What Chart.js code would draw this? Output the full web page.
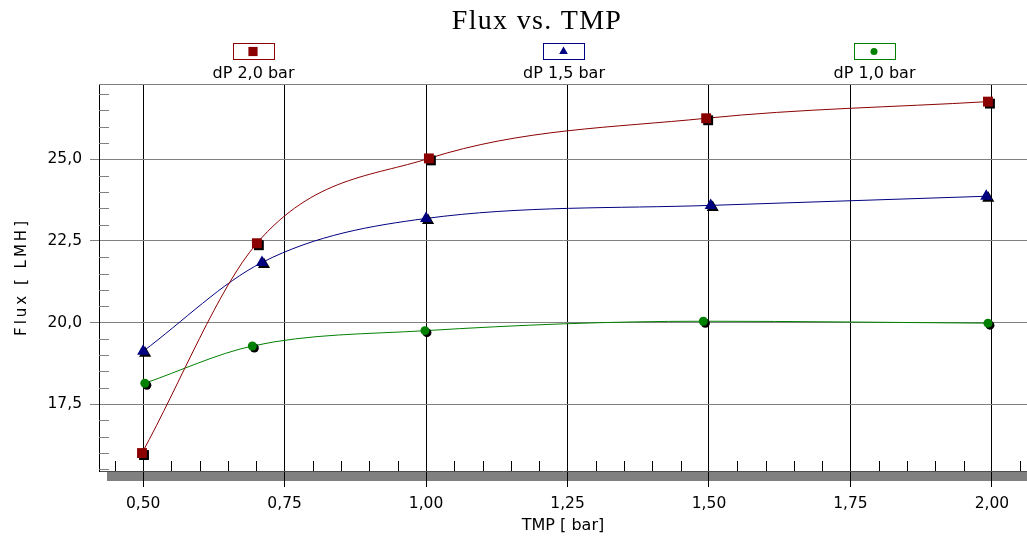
<!DOCTYPE html>
<html>
<head>
<meta charset="utf-8">
<title>Flux vs. TMP</title>
<script src="https://cdn.jsdelivr.net/npm/chart.js@4/dist/chart.umd.min.js"></script>
<style>
  html, body { margin: 0; padding: 0; background: #fff; }
  #wrap { width: 1027px; height: 536px; }
</style>
</head>
<body>
<div id="wrap"><canvas id="fluxChart" width="1027" height="536"></canvas></div>
<script>
// --- data ---
const chartTitle = "Flux vs. TMP";
const xTitle = "TMP [ bar]";
const yTitle = "Flux [ LMH]";
const seriesLabels = ["dP 2,0 bar", "dP 1,5 bar", "dP 1,0 bar"];

const tmp20 = [0.498, 0.701, 1.005, 1.495, 1.993];
const flux20 = [16.0, 22.43, 25.03, 26.26, 26.77];

const tmp15 = [0.5, 0.71, 1.0, 1.503, 1.99];
const flux15 = [19.12, 21.84, 23.19, 23.59, 23.87];

const tmp10 = [0.503, 0.693, 0.998, 1.49, 1.993];
const flux10 = [18.14, 19.28, 19.75, 20.04, 19.98];

// axis ranges / tick steps
const xMin = 0.422, xMax = 2.062, xStep = 0.05, xMajor = 0.25;
const yMin = 15.45, yMax = 27.31, yStep = 0.5, yMajor = 2.5;

const colors = ["#8b0000", "#000080", "#008000"];
const markers = ["rect", "triangle", "circle"];
const markerRadius = [7, 7, 4.5];
const legendRadius = [6.5, 5, 3.5];

const FONT = "'DejaVu Sans', sans-serif";

function isMajor(v, step) {
  return Math.abs(v / step - Math.round(v / step)) < 1e-6;
}

function commaFmt(v, digits) {
  return v.toFixed(digits).replace(".", ",");
}

// build datasets: one smoothed line + one marker set per series
const seriesX = [tmp20, tmp15, tmp10];
const seriesY = [flux20, flux15, flux10];
const datasets = [];
seriesLabels.forEach((label, i) => {
  const pts = seriesX[i].map((x, k) => ({ x: x, y: seriesY[i][k] }));
  datasets.push({
    label: label,
    data: pts,
    borderColor: colors[i],
    borderWidth: 1,
    pointRadius: 0,
    pointHoverRadius: 0,
    cubicInterpolationMode: "monotone",
    fill: false,
    order: 2,
  });
  datasets.push({
    label: label,
    data: pts,
    showLine: false,
    pointStyle: markers[i],
    pointRadius: markerRadius[i],
    pointHoverRadius: markerRadius[i],
    pointBackgroundColor: colors[i],
    pointBorderColor: colors[i],
    pointBorderWidth: 0,
    pointShadow: true,
    order: 1,
  });
});

// black drop shadow under the markers
const markerShadow = {
  id: "markerShadow",
  beforeDatasetDraw(chart, args) {
    if (!chart.data.datasets[args.index].pointShadow) return;
    const ctx = chart.ctx;
    ctx.save();
    ctx.shadowColor = "#000";
    ctx.shadowOffsetX = 2;
    ctx.shadowOffsetY = 2;
    ctx.shadowBlur = 0;
  },
  afterDatasetDraw(chart, args) {
    if (chart.data.datasets[args.index].pointShadow) chart.ctx.restore();
  },
};

// title, legend boxes, rotated y title, grey base bar, inner minor ticks
const decor = {
  id: "decor",
  beforeDraw(chart) {
    const { ctx, chartArea: a } = chart;
    ctx.save();
    ctx.fillStyle = "#808080";
    ctx.fillRect(a.left + 8, a.bottom + 1, a.right - a.left - 8, 9);
    ctx.restore();
  },
  beforeDatasetsDraw(chart) {
    const { ctx, chartArea: a, scales } = chart;
    ctx.save();
    ctx.lineWidth = 1;
    // top frame line
    ctx.strokeStyle = "#808080";
    ctx.beginPath();
    ctx.moveTo(a.left, a.top + 0.5);
    ctx.lineTo(a.right, a.top + 0.5);
    ctx.stroke();
    // minor ticks pointing inwards
    ctx.strokeStyle = "#000";
    ctx.beginPath();
    scales.x.ticks.forEach((t) => {
      if (isMajor(t.value, xMajor)) return;
      const px = Math.round(scales.x.getPixelForValue(t.value)) + 0.5;
      ctx.moveTo(px, a.bottom);
      ctx.lineTo(px, a.bottom - 10);
    });
    ctx.stroke();
    ctx.strokeStyle = "#808080";
    ctx.beginPath();
    scales.y.ticks.forEach((t) => {
      if (isMajor(t.value, yMajor)) return;
      const py = Math.round(scales.y.getPixelForValue(t.value)) + 0.5;
      ctx.moveTo(a.left, py);
      ctx.lineTo(a.left + 10, py);
    });
    ctx.stroke();
    ctx.restore();
  },
  afterDraw(chart) {
    const { ctx, chartArea: a } = chart;
    const mid = (a.left + a.right) / 2;
    ctx.save();
    // chart title
    ctx.fillStyle = "#000";
    ctx.font = "28px 'Liberation Serif', 'Times New Roman', serif";
    ctx.letterSpacing = "1.3px";
    ctx.textAlign = "center";
    ctx.textBaseline = "alphabetic";
    ctx.fillText(chartTitle, mid - 26, 29);
    ctx.letterSpacing = "0px";

    // legend: framed marker with the label underneath
    seriesLabels.forEach((label, i) => {
      const cx = mid + (i - 1) * 310.5;
      ctx.strokeStyle = colors[i];
      ctx.lineWidth = 1;
      ctx.strokeRect(Math.round(cx - 20) + 0.5, 43.5, 41, 16);
      ctx.fillStyle = colors[i];
      Chart.helpers.drawPoint(ctx, {
        pointStyle: markers[i],
        radius: legendRadius[i],
        rotation: 0,
        borderWidth: 0,
      }, cx + 0.5, 51.5);
      ctx.fillStyle = "#000";
      ctx.font = "16px " + FONT;
      ctx.textAlign = "center";
      ctx.fillText(label, cx + 1, 78);
    });

    // y axis title with wide tracking
    ctx.translate(22, 277);
    ctx.rotate(-Math.PI / 2);
    ctx.font = "15px " + FONT;
    ctx.letterSpacing = "3px";
    ctx.textAlign = "center";
    ctx.textBaseline = "middle";
    ctx.fillStyle = "#000";
    ctx.fillText(yTitle, 0, 0);
    ctx.restore();
  },
};

const chart = new Chart(document.getElementById("fluxChart"), {
  type: "line",
  data: { datasets: datasets },
  plugins: [markerShadow, decor],
  options: {
    responsive: false,
    animation: false,
    devicePixelRatio: 1,
    layout: { autoPadding: false, padding: { top: 84, right: 0, bottom: 0, left: 0 } },
    plugins: {
      legend: { display: false },
      title: { display: false },
      tooltip: { enabled: false },
    },
    scales: {
      x: {
        type: "linear",
        min: xMin,
        max: xMax,
        afterFit(scale) {
          scale.height = 65;
          scale.paddingLeft = 0;
          scale.paddingRight = 0;
        },
        border: { display: true, color: "#4d4d4d", width: 1 },
        grid: {
          color: (c) => (c.tick && isMajor(c.tick.value, xMajor) ? "#000" : "rgba(0,0,0,0)"),
          lineWidth: 1,
          tickLength: 16,
        },
        ticks: {
          stepSize: xStep,
          includeBounds: false,
          autoSkip: false,
          maxRotation: 0,
          maxTicksLimit: 200,
          padding: 8,
          color: "#000",
          font: { family: FONT, size: 15.5 },
          callback: (v) => (isMajor(v, xMajor) ? commaFmt(v, 2) : ""),
        },
        title: {
          display: true,
          text: xTitle,
          color: "#000",
          font: { family: FONT, size: 16 },
          padding: { top: 0, bottom: 1 },
        },
      },
      y: {
        type: "linear",
        min: yMin,
        max: yMax,
        afterFit(scale) { scale.width = 99; },
        border: { display: true, color: "#000", width: 1 },
        grid: {
          color: (c) => (c.tick && isMajor(c.tick.value, yMajor) ? "#808080" : "rgba(0,0,0,0)"),
          lineWidth: 1,
          tickLength: 9,
        },
        ticks: {
          stepSize: yStep,
          includeBounds: false,
          autoSkip: false,
          maxTicksLimit: 200,
          padding: 8,
          color: "#000",
          font: { family: FONT, size: 15.5 },
          callback: (v) => (isMajor(v, yMajor) ? commaFmt(v, 1) : ""),
        },
      },
    },
  },
});
</script>
</body>
</html>
